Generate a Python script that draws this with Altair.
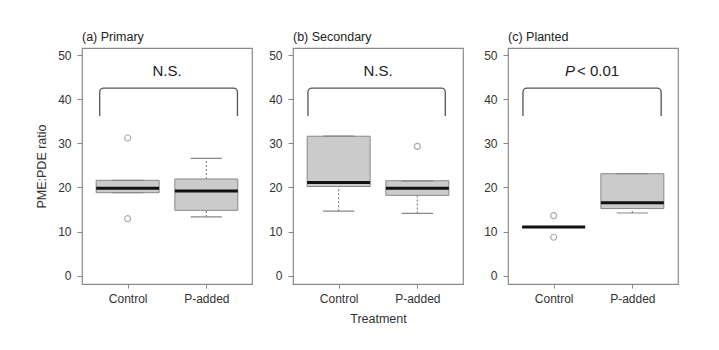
import altair as alt
import pandas as pd

# ---------------- data ----------------
panel_titles = ["(a) Primary", "(b) Secondary", "(c) Planted"]
treatments = ["Control", "P-added"]
x_pos = [1, 2]
q1 = [[18.8, 14.8], [20.2, 18.2], [11.0, 15.2]]
median = [[19.8, 19.2], [21.1, 19.8], [11.0, 16.5]]
q3 = [[21.6, 21.9], [31.6, 21.5], [11.0, 23.1]]
whisker_lo = [[18.8, 13.3], [14.6, 14.1], [11.0, 14.2]]
whisker_hi = [[21.6, 26.6], [31.6, 21.5], [11.0, 23.1]]
outliers = [[[31.2, 12.9], []], [[], [29.3]], [[13.6, 8.7], []]]
sig_italic = ["", "", "P"]
sig_text = ["N.S.", "N.S.", "< 0.01"]
bracket_x1 = [0.645, 0.61, 0.61]
bracket_x2 = [2.395, 2.355, 2.366]
bracket_top = 42.5
bracket_end = 36.2
sig_y = 46.3
y_ticks = [0, 10, 20, 30, 40, 50]

FONT = "Liberation Sans"
FRAME = "#8a8a8a"
BOXFILL = "#cbcbcb"
GREY = "#888888"

XDOM = [0.42, 2.58]
YDOM = [-1.9, 51.6]


def panel(i):
    rows = []
    for j, t in enumerate(treatments):
        rows.append(dict(treat=t, x=x_pos[j], q1=q1[i][j], med=median[i][j], q3=q3[i][j],
                         lo=whisker_lo[i][j], hi=whisker_hi[i][j]))
    box = pd.DataFrame(rows)
    out = pd.DataFrame([dict(treat=t, x=x_pos[j], v=v)
                        for j, t in enumerate(treatments) for v in outliers[i][j]])
    if out.empty:
        out = pd.DataFrame({"treat": [], "x": [], "v": []})
    br = pd.DataFrame([dict(x1=bracket_x1[i], x2=bracket_x2[i], top=bracket_top, end=bracket_end,
                            mid=(x_pos[0] + x_pos[1]) / 2, ty=sig_y,
                            ital=sig_italic[i], txt=sig_text[i])])

    xaxis = alt.Axis(values=x_pos, labelExpr="datum.value == 1 ? 'Control' : 'P-added'",
                     domain=False, grid=False, tickColor=GREY, tickSize=4, labelPadding=5,
                     labelFontSize=12, labelColor="#333", titleFontSize=12.5,
                     titleFontWeight="normal", titleColor="#333", titlePadding=8,
                     title="Treatment" if i == 1 else None)
    yaxis_kwargs = dict(values=y_ticks, domain=False, grid=False, tickColor=GREY, tickSize=5,
                        labelPadding=6, labelFontSize=12, labelColor="#333")
    if i == 0:
        yaxis = alt.Axis(title="PME:PDE ratio", titleFontSize=12.5, titleFontWeight="normal",
                         titleColor="#333", titlePadding=9, **yaxis_kwargs)
    elif i == 1:
        yaxis = alt.Axis(title=None, **yaxis_kwargs)
    else:
        yaxis = alt.Axis(title=None, minExtent=28, **yaxis_kwargs)

    xs = alt.Scale(domain=XDOM, nice=False, zero=False)
    ys = alt.Scale(domain=YDOM, nice=False, zero=False)

    base = alt.Chart(box).transform_calculate(
        xl="datum.x - 0.4", xr="datum.x + 0.4", cl="datum.x - 0.2", cr="datum.x + 0.2")

    # axis carrier (invisible)
    carrier = alt.Chart(box).mark_point(opacity=0).encode(
        x=alt.X("x:Q", scale=xs, axis=xaxis),
        y=alt.Y("med:Q", scale=ys, axis=yaxis))

    bracket = alt.Chart(br).transform_calculate(low="datum.end - 3").mark_rect(
        fill=None, stroke="#555", strokeWidth=1.3, cornerRadius=4).encode(
        x="x1:Q", x2="x2:Q", y="low:Q", y2="top:Q")
    cover = alt.Chart(br).transform_calculate(
        low="datum.end - 3.7", cx1="datum.x1 - 0.04", cx2="datum.x2 + 0.04").mark_rect(
        fill="white", stroke=None).encode(x="cx1:Q", x2="cx2:Q", y="low:Q", y2="end:Q")

    rect = base.mark_rect(fill=BOXFILL, stroke=GREY, strokeWidth=1).encode(
        x="xl:Q", x2="xr:Q", y="q1:Q", y2="q3:Q")
    wh_up = base.mark_rule(color=GREY, strokeWidth=1.2, strokeDash=[2, 2]).encode(
        x="x:Q", y="q3:Q", y2="hi:Q")
    wh_dn = base.mark_rule(color=GREY, strokeWidth=1.2, strokeDash=[2, 2]).encode(
        x="x:Q", y="lo:Q", y2="q1:Q")
    cap_up = base.mark_rule(color=GREY, strokeWidth=1.2).encode(x="cl:Q", x2="cr:Q", y="hi:Q")
    cap_dn = base.mark_rule(color=GREY, strokeWidth=1.2).encode(x="cl:Q", x2="cr:Q", y="lo:Q")
    med = base.mark_rule(color="#111", strokeWidth=3).encode(x="xl:Q", x2="xr:Q", y="med:Q")
    pts = alt.Chart(out).mark_point(shape="circle", filled=False, size=36, stroke=GREY,
                                     strokeWidth=1.2).encode(x="x:Q", y="v:Q")

    layers = [carrier, bracket, cover, rect, wh_up, wh_dn, cap_up, cap_dn, med, pts]
    if sig_italic[i]:
        layers.append(alt.Chart(br).mark_text(fontSize=15, fontStyle="italic", align="right",
                                              dx=-18, color="#222").encode(
            x="mid:Q", y="ty:Q", text="ital:N"))
        layers.append(alt.Chart(br).mark_text(fontSize=15, align="left", dx=-16,
                                              color="#222").encode(
            x="mid:Q", y="ty:Q", text="txt:N"))
    else:
        layers.append(alt.Chart(br).mark_text(fontSize=15, align="center",
                                              color="#222").encode(
            x="mid:Q", y="ty:Q", text="txt:N"))

    return alt.layer(*layers).properties(
        width=170, height=236,
        title=alt.TitleParams(panel_titles[i], anchor="start", frame="group", fontSize=12.5,
                              fontWeight="normal", color="#222", offset=5))


chart = alt.hconcat(panel(0), panel(1), panel(2), spacing=15).properties(
    padding={"left": 35, "top": 29, "right": 5, "bottom": 5},
    background="white",
).configure(font=FONT).configure_view(stroke=FRAME, strokeWidth=1.2)

chart.save("out.html", embed_options={"renderer": "svg", "actions": False})
